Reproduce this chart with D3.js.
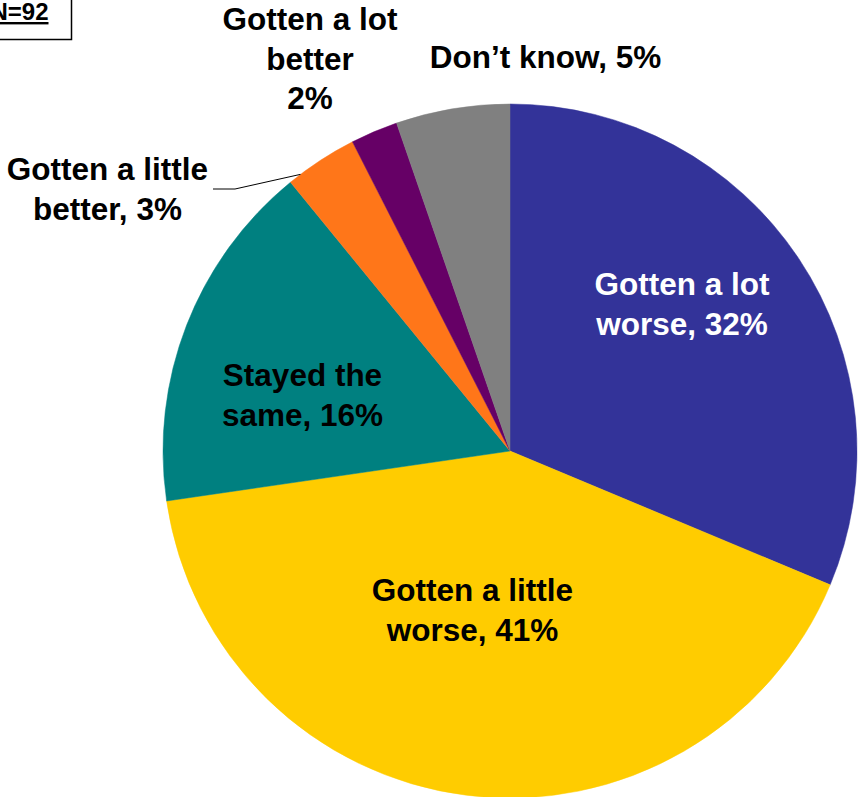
<!DOCTYPE html>
<html>
<head>
<meta charset="utf-8">
<script src="https://cdn.jsdelivr.net/npm/d3@7"></script>
<style>
  html, body { margin: 0; padding: 0; background: #ffffff; }
  svg { display: block; }
  text { font-family: "Liberation Sans", Arial, sans-serif; font-weight: bold; }
</style>
</head>
<body>
<svg id="chart" width="859" height="797"></svg>
<script>
// ---- data ----
const categories = ["Gotten a lot worse", "Gotten a little worse", "Stayed the same",
                    "Gotten a little better", "Gotten a lot better", "Don\u2019t know"];
const values = [31.3, 41.4, 16.4, 3.4, 2.2, 5.3];
const labelLines = [
  ["Gotten a lot", "worse, 32%"],
  ["Gotten a little", "worse, 41%"],
  ["Stayed the", "same, 16%"],
  ["Gotten a little", "better, 3%"],
  ["Gotten a lot", "better", "2%"],
  ["Don\u2019t know, 5%"]
];
const sampleNote = "N=92";

// ---- styling / layout ----
const colors = ["#333399", "#FFCC00", "#008080", "#FF7619", "#660066", "#808080"];
const textColors = ["#ffffff", "#000000", "#000000", "#000000", "#000000", "#000000"];
const cx = 510, cy = 451, R = 347;
const fontSize = 31.5, lineH = 39.5;
// label anchor (center x, first baseline y) in pixels
const labelAnchor = [
  [682, 295], [472.5, 601], [302.5, 386], [107.5, 180], [310, 30], [545.5, 68]
];

const svg = d3.select("#chart");
const g = svg.append("g").attr("transform", `translate(${cx},${cy})`);

const pie = d3.pie().sort(null).value(d => d.v).startAngle(0).endAngle(2 * Math.PI);
const arcs = pie(categories.map((c, i) => ({ c, v: values[i], i })));
const arc = d3.arc().innerRadius(0).outerRadius(R);

g.selectAll("path.slice").data(arcs).join("path")
  .attr("class", "slice")
  .attr("d", arc)
  .attr("fill", d => colors[d.data.i])
  .attr("stroke", d => colors[d.data.i])
  .attr("stroke-width", 0.5);

// leader line for "Gotten a little better"
const lb = arcs[3];
const midA = (lb.startAngle + lb.endAngle) / 2 - 0.07;
const edgePt = [cx + Math.sin(midA) * R, cy - Math.cos(midA) * R];
svg.append("path")
  .attr("d", d3.line()([[213, 189], [235, 189], edgePt]))
  .attr("fill", "none").attr("stroke", "#000").attr("stroke-width", 1);

// labels
labelLines.forEach((lines, i) => {
  const [x, y] = labelAnchor[i];
  const t = svg.append("text")
    .attr("text-anchor", "middle")
    .attr("font-size", fontSize)
    .attr("fill", textColors[i]);
  lines.forEach((ln, j) => {
    t.append("tspan").attr("x", x).attr("y", y + j * lineH).text(ln);
  });
});

// N=92 box
svg.append("rect")
  .attr("x", -20).attr("y", -10).attr("width", 91.5).attr("height", 49.5)
  .attr("fill", "#fff").attr("stroke", "#000").attr("stroke-width", 1.5);
svg.append("text")
  .attr("x", 48.5).attr("y", 20)
  .attr("text-anchor", "end")
  .attr("font-size", 24)
  .attr("text-decoration", "underline")
  .attr("fill", "#000")
  .text(sampleNote);
</script>
</body>
</html>
